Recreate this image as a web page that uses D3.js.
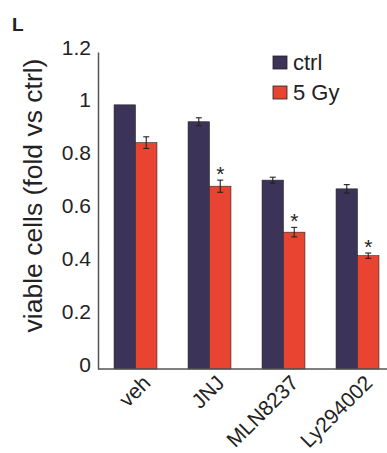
<!DOCTYPE html>
<html>
<head>
<meta charset="utf-8">
<script src="https://cdn.jsdelivr.net/npm/d3@7"></script>
<style>
  body { margin: 0; background: #fff; }
  text { font-family: "Liberation Sans", Arial, sans-serif; }
</style>
</head>
<body>
<div id="chart"></div>
<script>
// Data
const groups = ['veh', 'JNJ', 'MLN8237', 'Ly294002']
const series = ['ctrl', '5 Gy']
const ctrlVals = [1.0, 0.936, 0.715, 0.682]
const ctrlErr = [0, 0.015, 0.011, 0.016]
const gyVals = [0.857, 0.692, 0.518, 0.429]
const gyErr = [0.022, 0.023, 0.018, 0.01]
const gySig = [false, true, true, true]
const yTicks = [0, 0.2, 0.4, 0.6, 0.8, 1, 1.2]

const width = 387, height = 453
const axisX = 98, baseY = 369, topY = 52
const colors = { 'ctrl': '#3c3359', '5 Gy': '#e94431' }

const rows = []
groups.forEach((g, i) => {
  rows.push({ g, s: 'ctrl', v: ctrlVals[i], e: ctrlErr[i], sig: false })
  rows.push({ g, s: '5 Gy', v: gyVals[i], e: gyErr[i], sig: gySig[i] })
})

const svg = d3.select('#chart')
  .append('svg')
  .attr('width', width)
  .attr('height', height)

const y = d3.scaleLinear().domain([0, 1.2]).range([baseY, topY])
const x0 = d3.scaleBand().domain(groups).range([98.5, 394.5]).paddingInner(0.42).paddingOuter(0.21)
const x1 = d3.scaleBand().domain(series).range([0, x0.bandwidth()])

// bars
svg.append('g').selectAll('rect')
  .data(rows)
  .enter()
  .append('rect')
  .attr('x', d => x0(d.g) + x1(d.s))
  .attr('y', d => y(d.v))
  .attr('width', x1.bandwidth())
  .attr('height', d => baseY - y(d.v))
  .attr('fill', d => colors[d.s])
  .attr('stroke', '#2a2a2a')
  .attr('stroke-width', 0.6)

// error bars
const eb = svg.append('g').attr('stroke', '#222').attr('stroke-width', 1.1)
rows.filter(d => d.e > 0).forEach(d => {
  const cx = x0(d.g) + x1(d.s) + x1.bandwidth() / 2
  eb.append('line').attr('x1', cx).attr('x2', cx).attr('y1', y(d.v + d.e)).attr('y2', y(d.v - d.e))
  eb.append('line').attr('x1', cx - 3).attr('x2', cx + 3).attr('y1', y(d.v + d.e)).attr('y2', y(d.v + d.e))
  eb.append('line').attr('x1', cx - 3).attr('x2', cx + 3).attr('y1', y(d.v - d.e)).attr('y2', y(d.v - d.e))
})

// asterisks
svg.append('g').selectAll('text')
  .data(rows.filter(d => d.sig))
  .enter()
  .append('text')
  .attr('x', d => x0(d.g) + x1(d.s) + x1.bandwidth() / 2)
  .attr('y', d => y(d.v + d.e) + 1)
  .attr('text-anchor', 'middle')
  .attr('font-size', 21)
  .attr('fill', '#222')
  .text('*')

// y axis
const yAxis = svg.append('g')
  .attr('transform', `translate(${axisX},0)`)
  .call(d3.axisLeft(y).tickValues(yTicks).tickSize(0).tickPadding(7).tickFormat(d3.format('~g')))
yAxis.select('.domain').attr('stroke', '#555').attr('stroke-width', 1.5)
yAxis.selectAll('text')
  .attr('font-size', 21)
  .attr('fill', '#222')
  .attr('dy', '0.1em')
  .style('font-family', '"Liberation Sans", Arial, sans-serif')

// x axis
const xAxis = svg.append('g')
  .attr('transform', `translate(0,${baseY})`)
  .call(d3.axisBottom(x0).tickSize(0).tickPadding(0))
xAxis.select('.domain').attr('d', `M${axisX},0H${width}`).attr('stroke', '#555').attr('stroke-width', 1.5)
xAxis.selectAll('text')
  .attr('font-size', 21)
  .attr('fill', '#222')
  .attr('text-anchor', 'end')
  .attr('transform', 'translate(11,10) rotate(-45)')
  .attr('dy', '0.35em')
  .attr('y', 0)
  .style('font-family', '"Liberation Sans", Arial, sans-serif')

// y title
svg.append('text')
  .attr('transform', `translate(42,${(58 + 333) / 2}) rotate(-90)`)
  .attr('text-anchor', 'middle')
  .attr('font-size', 26.5)
  .attr('fill', '#222')
  .text('viable cells (fold vs ctrl)')

// panel letter
svg.append('text')
  .attr('x', 12)
  .attr('y', 31)
  .attr('font-size', 19)
  .attr('font-weight', 'bold')
  .attr('fill', '#222')
  .text('L')

// legend
const leg = svg.append('g')
series.forEach((s, i) => {
  leg.append('rect')
    .attr('x', 273).attr('y', 56 + i * 30)
    .attr('width', 14).attr('height', 13)
    .attr('fill', colors[s]).attr('stroke', '#222').attr('stroke-width', 0.8)
  leg.append('text')
    .attr('x', 293).attr('y', 62 + i * 30)
    .attr('dy', '0.35em')
    .attr('font-size', 22)
    .attr('fill', '#222')
    .text(s)
})
</script>
</body>
</html>
